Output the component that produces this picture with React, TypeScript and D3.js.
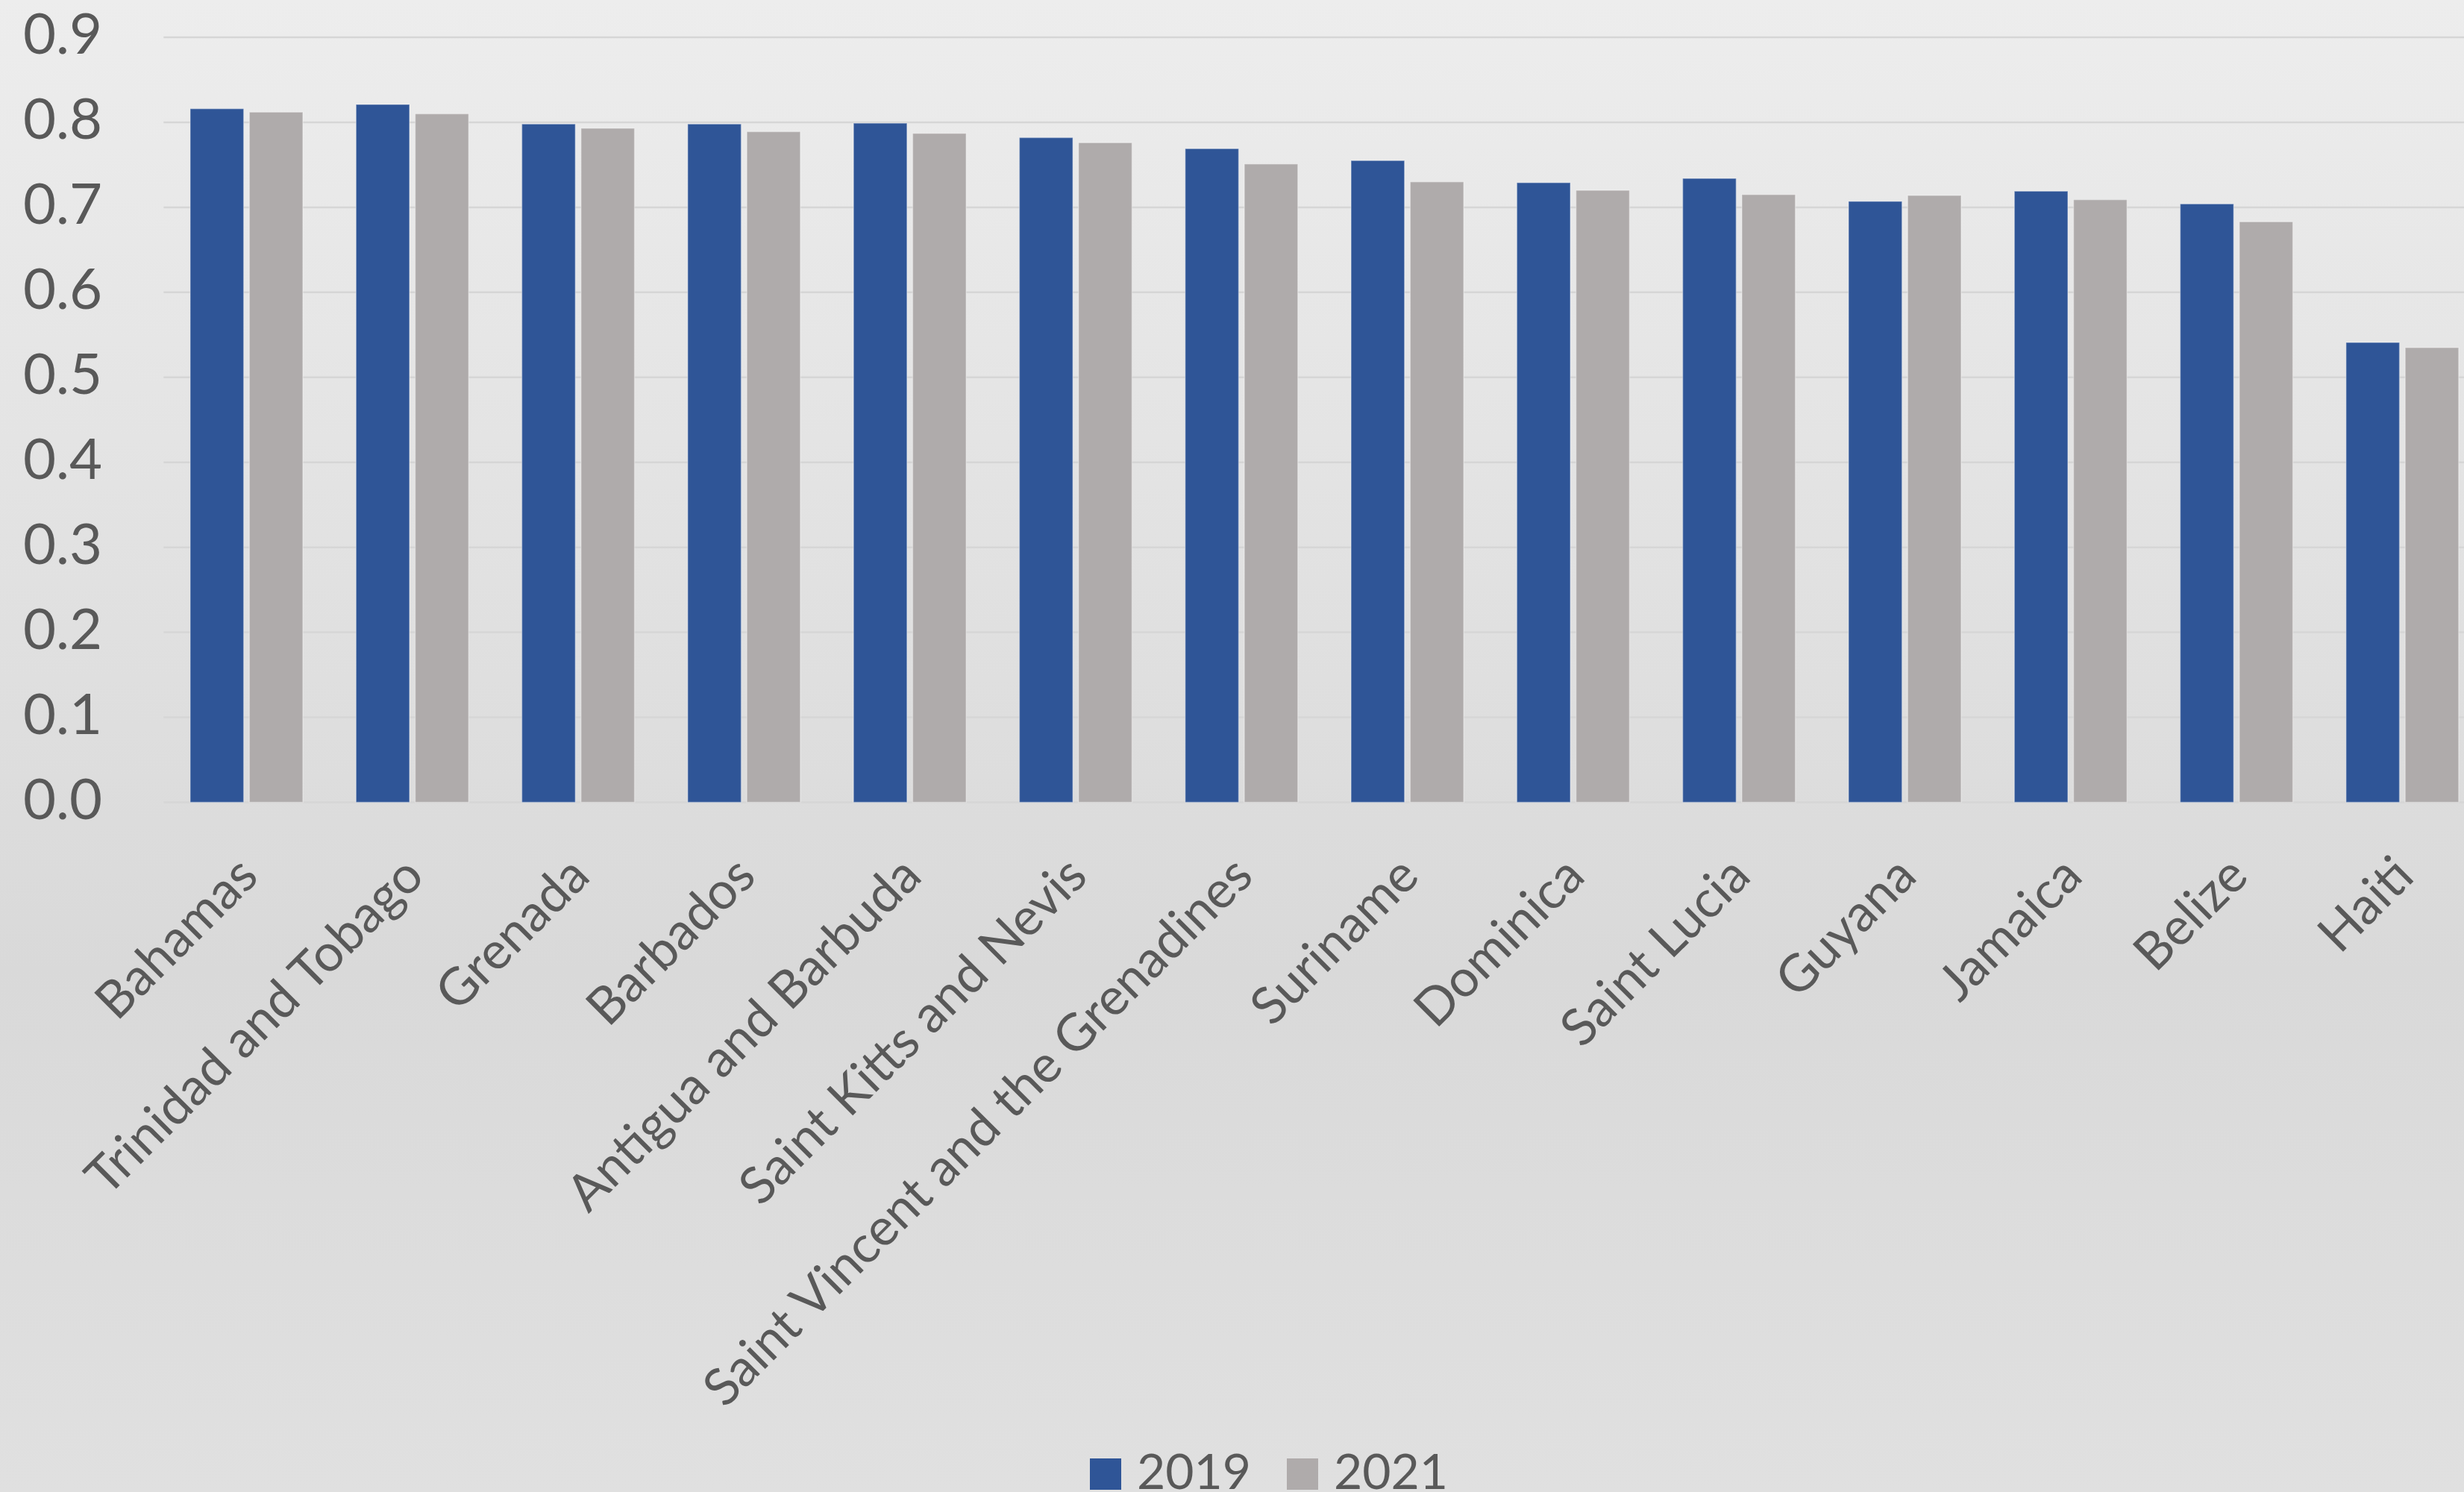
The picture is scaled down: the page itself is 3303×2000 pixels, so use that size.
import React from "react";
import * as d3 from "d3";

const countries = [
  "Bahamas",
  "Trinidad and Tobago",
  "Grenada",
  "Barbados",
  "Antigua and Barbuda",
  "Saint Kitts and Nevis",
  "Saint Vincent and the Grenadines",
  "Suriname",
  "Dominica",
  "Saint Lucia",
  "Guyana",
  "Jamaica",
  "Belize",
  "Haiti",
];
const values2019 = [0.816, 0.821, 0.798, 0.798, 0.799, 0.782, 0.769, 0.755, 0.729, 0.734, 0.707, 0.719, 0.704, 0.541];
const values2021 = [0.812, 0.81, 0.793, 0.789, 0.787, 0.776, 0.751, 0.73, 0.72, 0.715, 0.714, 0.709, 0.683, 0.535];
const seriesNames = ["2019", "2021"];
const seriesColors = ["#2F5597", "#AFABAB"];
const yTicks = [0, 0.1, 0.2, 0.3, 0.4, 0.5, 0.6, 0.7, 0.8, 0.9];

const W = 3303;
const H = 2000;
const FONT = "Lato, 'Open Sans', sans-serif";
const TEXT = "#595959";

export default function App() {
  const plotLeft = 219.3;
  const step = 222.3;
  const x = d3
    .scaleBand<string>()
    .domain(countries)
    .range([plotLeft, plotLeft + step * countries.length])
    .padding(0);
  const bw = x.bandwidth();
  const groupW = 151;
  const xs = d3
    .scaleBand<string>()
    .domain(seriesNames)
    .range([(bw - groupW) / 2, (bw + groupW) / 2])
    .paddingInner(0.096)
    .paddingOuter(0);
  const y = d3.scaleLinear().domain([0, 0.9]).range([1075.5, 50]);
  const series = [values2019, values2021];

  return (
    <svg
      width={W}
      height={H}
      style={{ position: "absolute", left: 0, top: 0, display: "block" }}
      fontFamily={FONT}
    >
      <defs>
        <linearGradient id="bg" x1="0" y1="0" x2="0" y2="1">
          <stop offset="0" stopColor="#EDEDED" />
          <stop offset="0.65" stopColor="#D9D9D9" />
          <stop offset="1" stopColor="#E0E0E0" />
        </linearGradient>
      </defs>
      <rect x={0} y={0} width={W} height={H} fill="url(#bg)" />
      {yTicks.map((t) => (
        <g key={t}>
          <line
            x1={plotLeft}
            x2={W}
            y1={y(t)}
            y2={y(t)}
            stroke="#D6D6D6"
            strokeWidth={2.5}
          />
          <text
            x={137}
            y={y(t) + 22}
            textAnchor="end"
            fontSize={76}
            fill={TEXT}
          >
            {d3.format(".1f")(t)}
          </text>
        </g>
      ))}
      {countries.map((c, i) => (
        <g key={c} transform={`translate(${x(c)},0)`}>
          {series.map((vals, s) => (
            <rect
              key={s}
              x={xs(seriesNames[s])}
              y={y(vals[i])}
              width={xs.bandwidth()}
              height={y(0) - y(vals[i])}
              fill={seriesColors[s]}
              stroke="#FFFFFF"
              strokeOpacity={0.35}
              strokeWidth={1.5}
            />
          ))}
        </g>
      ))}
      {countries.map((c) => {
        const cx = (x(c) as number) + bw / 2;
        const cy = 1159;
        return (
          <text
            key={c}
            x={cx}
            y={cy}
            textAnchor="end"
            dominantBaseline="central"
            fontSize={69}
            fill={TEXT}
            transform={`rotate(-45 ${cx} ${cy})`}
          >
            {c}
          </text>
        );
      })}
      {seriesNames.map((n, s) => {
        const lx = s === 0 ? 1461 : 1725;
        return (
          <g key={n}>
            <rect x={lx} y={1955} width={42} height={42} fill={seriesColors[s]} />
            <text x={lx + 63} y={1996} fontSize={66} fill={TEXT}>
              {n}
            </text>
          </g>
        );
      })}
    </svg>
  );
}
